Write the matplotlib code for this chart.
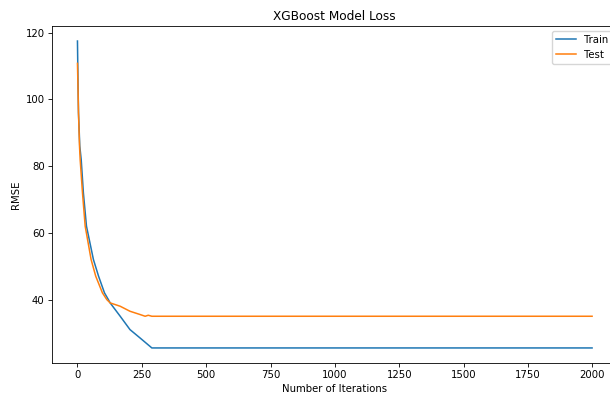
import matplotlib.pyplot as plt

# values (RMSE per boosting round)
train_iter = [0, 2, 4, 9, 14.5, 23, 35, 62, 82, 105, 120, 127, 166, 204, 243, 289, 1999]
train_rmse = [117.5, 106, 96, 86, 82, 72, 62, 52, 47, 42, 40, 39, 35, 31, 28.5, 25.5, 25.5]

test_iter = [0, 2, 4, 8, 10.5, 19.5, 30, 53, 71, 97, 114, 127, 166, 204, 240, 263, 275, 289, 1999]
test_rmse = [110.8, 104, 96, 86, 82, 72, 62, 52, 47, 42, 40, 39, 38, 36.5, 35.6, 35.0, 35.3, 35.0, 35.0]

fs = 7.3
fig = plt.figure(figsize=(6.1, 3.97), dpi=100)
ax = fig.add_axes([0.0848, 0.0849, 0.928, 0.8504])
ax.plot(train_iter, train_rmse, linewidth=1.1, label="Train")
ax.plot(test_iter, test_rmse, linewidth=1.1, label="Test")
ax.set_title("XGBoost Model Loss", fontsize=fs * 1.2, pad=4.4)
ax.set_xlabel("Number of Iterations", fontsize=fs, labelpad=2.9)
ax.set_ylabel("RMSE", fontsize=fs, labelpad=2.9)
ax.set_xticks([0, 250, 500, 750, 1000, 1250, 1500, 1750, 2000])
ax.set_yticks([40, 60, 80, 100, 120])
ax.tick_params(labelsize=fs, length=2.6, width=0.6, pad=2.5)
for s in ax.spines.values():
    s.set_linewidth(0.6)
ax.legend(loc="upper right", fontsize=fs)
plt.savefig("out.png")
